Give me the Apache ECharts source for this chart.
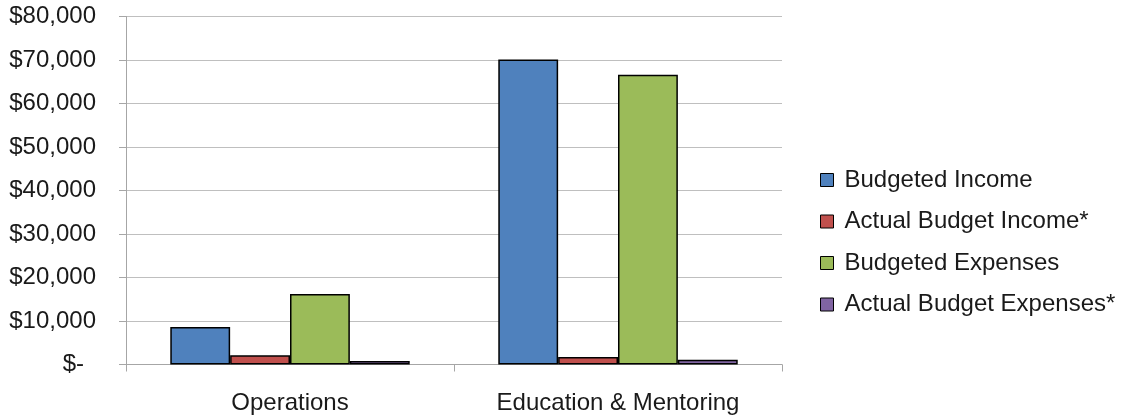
<!DOCTYPE html>
<html><head><meta charset="utf-8">
<script src="https://cdn.jsdelivr.net/npm/echarts@6/dist/echarts.min.js"></script>
<style>html,body{margin:0;padding:0;background:#fff}#c{width:1122px;height:418px}</style>
</head><body><div id="c"></div>
<script>
const categories = ['Operations', 'Education & Mentoring'];
const seriesNames = ['Budgeted Income', 'Actual Budget Income*', 'Budgeted Expenses', 'Actual Budget Expenses*'];
const budgetedIncome = [8600, 70100];
const actualIncome = [2100, 1700];
const budgetedExpenses = [16200, 66600];
const actualExpenses = [800, 1100];
const colors = ['#4F81BD', '#C0504D', '#9BBB59', '#8064A2'];
const yMin = 0, yMax = 80000, yInterval = 10000;

const values = [budgetedIncome, actualIncome, budgetedExpenses, actualExpenses];
const FONT = 'Liberation Sans, Arial, sans-serif';
const FS = 24;

const chart = echarts.init(document.getElementById('c'));
chart.setOption({
  animation: false,
  textStyle: {fontFamily: FONT},
  grid: {left: 126, right: 340, top: 16.5, bottom: 53.5},
  legend: {
    orient: 'vertical', left: 815, top: 163,
    itemWidth: 13, itemHeight: 13, itemGap: 17.5,
    icon: 'rect',
    itemStyle: {borderColor: '#000', borderWidth: 1},
    textStyle: {fontFamily: FONT, fontSize: FS, color: '#1a1a1a', lineHeight: 24, padding: [0, 0, 0, 6]},
    data: seriesNames
  },
  xAxis: {
    type: 'category', data: categories,
    axisLine: {lineStyle: {color: '#a6a6a6', width: 1}},
    axisTick: {show: true, length: 7, lineStyle: {color: '#a6a6a6'}},
    axisLabel: {fontFamily: FONT, fontSize: FS, color: '#1a1a1a', margin: 27}
  },
  yAxis: {
    type: 'value', min: yMin, max: yMax, interval: yInterval,
    axisLine: {show: true, lineStyle: {color: '#a6a6a6', width: 1}},
    axisTick: {show: true, length: 7, lineStyle: {color: '#a6a6a6'}},
    splitLine: {lineStyle: {color: '#bfbfbf', width: 1}},
    axisLabel: {
      fontFamily: FONT, fontSize: FS, color: '#1a1a1a', margin: 30,
      formatter: v => v === 0 ? '{z|$-}' : '$' + v.toLocaleString('en-US'),
      rich: {z: {fontFamily: FONT, fontSize: FS, color: '#1a1a1a', padding: [0, 12, 0, 0]}}
    }
  },
  series: seriesNames.map((n, i) => ({
    name: n, type: 'bar', data: values[i],
    barGap: '0%', barCategoryGap: '27%',
    itemStyle: {color: colors[i], borderColor: '#000', borderWidth: 1.5}
  }))
});
</script></body></html>
